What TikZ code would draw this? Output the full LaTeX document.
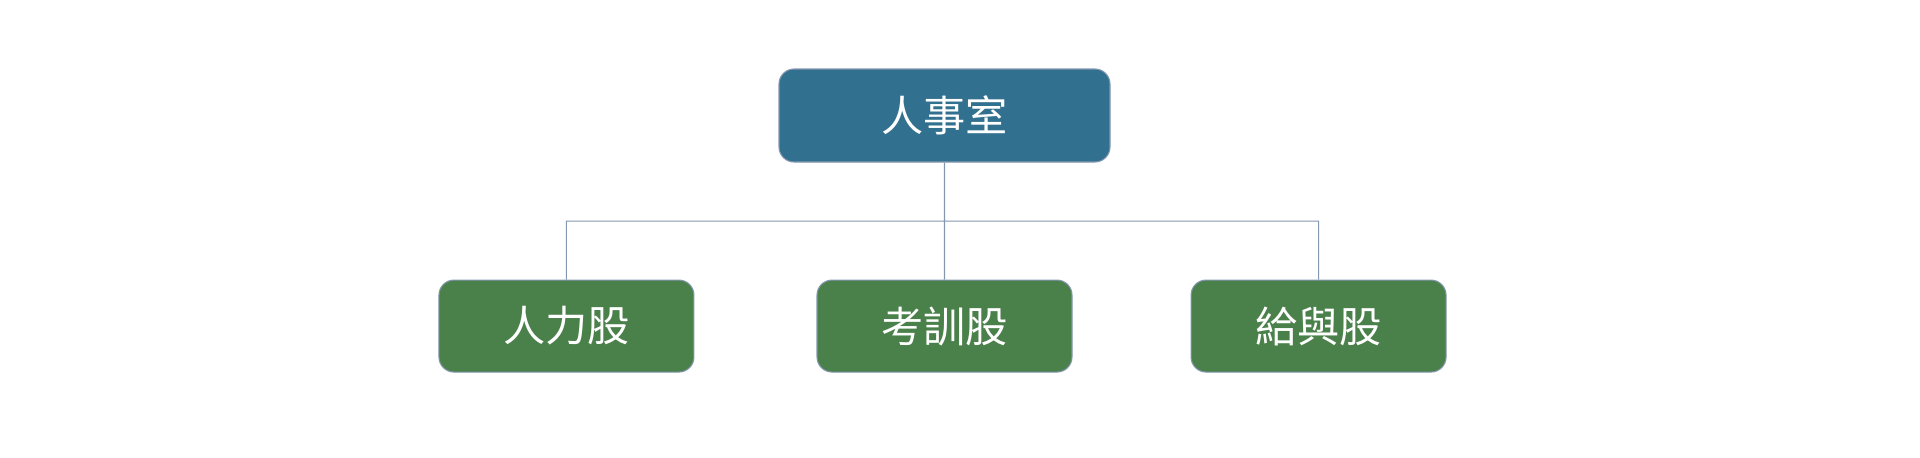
\documentclass[tikz,border=0pt]{standalone}
\usepackage{fontspec}
\newfontfamily\cjk{Noto Sans CJK TC}
\usetikzlibrary{positioning,calc}
\definecolor{topblue}{RGB}{49,112,143}
\definecolor{unitgreen}{RGB}{74,128,73}
\definecolor{rimgray}{RGB}{132,151,176}
\tikzset{
node distance=2.34cm,
box/.style={rectangle,rounded corners=0.3cm,draw=rimgray,line width=0.6pt,
  text=white,font=\cjk\fontsize{24}{28}\selectfont,inner sep=0pt},
office/.style={box,fill=topblue,minimum width=6.62cm,minimum height=1.86cm},
unit/.style={box,fill=unitgreen,minimum width=5.1cm,minimum height=1.84cm},
link/.style={draw=rimgray,line width=0.6pt},
}
\begin{document}
\begin{tikzpicture}
	\useasboundingbox (0,0) rectangle (38.4,-9.14);
	\node[office] (hr) at (18.89,-2.31) {人事室};
	\node[unit,below=of hr] (train) {考訓股};
	\node[unit,left=2.44cm of train] (staff) {人力股};
	\node[unit,right=2.36cm of train] (pay) {給與股};
	\coordinate (bus) at ($(hr.south)!0.5!(train.north)$);

	\path[link]
	(hr.south) -- (bus)
	(bus) -| (staff.north)
	(bus) -| (pay.north)
	(bus) -- (train.north)
	;
\end{tikzpicture}
\end{document}
